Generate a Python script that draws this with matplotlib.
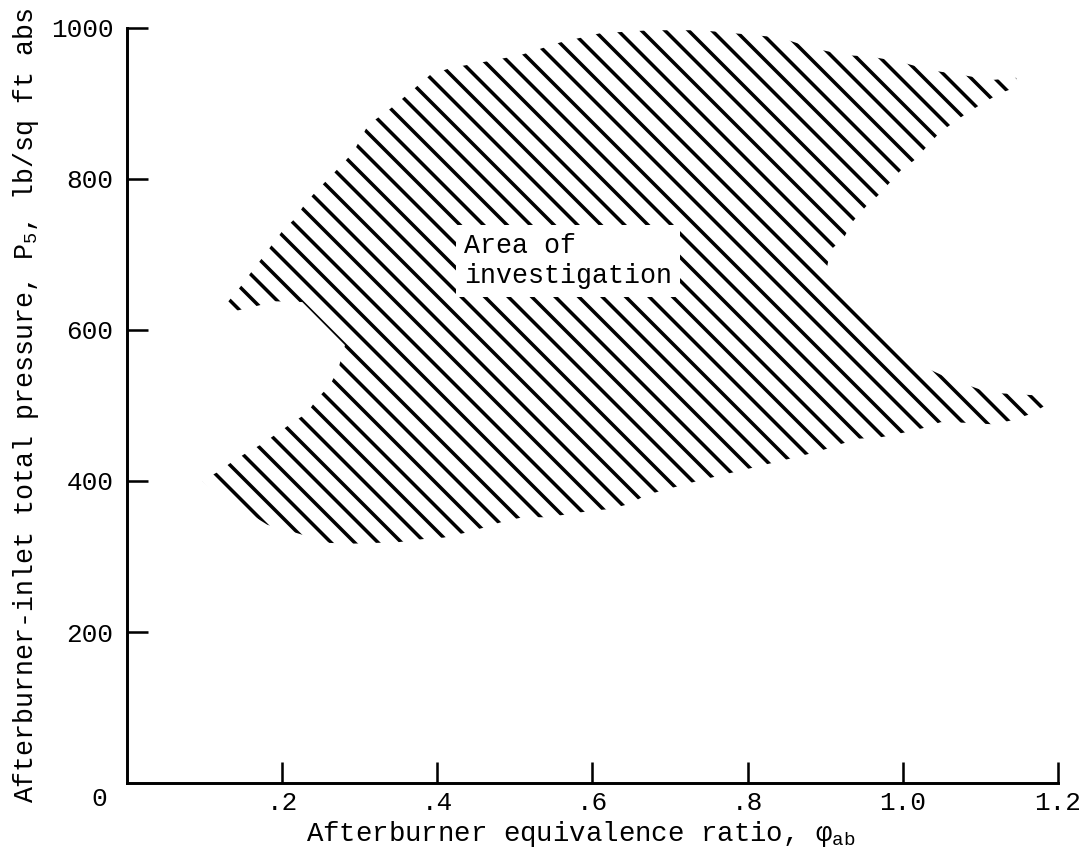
import matplotlib
matplotlib.use("Agg")
import matplotlib.pyplot as plt

DPI = 141
plt.rcParams['font.family'] = ['Liberation Mono', 'DejaVu Sans Mono']
plt.rcParams['mathtext.fontset'] = 'custom'
plt.rcParams['mathtext.rm'] = 'Liberation Mono'
plt.rcParams['mathtext.it'] = 'Liberation Mono'
plt.rcParams['hatch.linewidth'] = 1.8

# Outline of the area of investigation (equivalence ratio, pressure), traced clockwise
boundary_phi = [
    0.130, 0.146, 0.159, 0.174, 0.187, 0.201, 0.217, 0.230, 0.245, 0.262, 0.277, 0.292,
    0.311, 0.337, 0.365, 0.391, 0.417, 0.455, 0.507, 0.559, 0.610, 0.675, 0.739, 0.804,
    0.843, 0.881, 0.926, 0.959, 0.997, 1.036, 1.075, 1.114, 1.146,
    1.150, 1.124, 1.085, 1.048, 1.015, 0.997, 0.969, 0.952, 0.935, 0.924, 0.907, 0.901,
    0.959, 1.013, 1.059, 1.111, 1.179, 1.188,
    1.168, 1.143, 1.117, 1.085, 1.049, 1.026, 1.001, 0.972, 0.943, 0.917, 0.894, 0.868,
    0.804, 0.739, 0.692, 0.668, 0.649, 0.623, 0.595, 0.568, 0.542, 0.510, 0.484, 0.459,
    0.434, 0.408, 0.381, 0.350, 0.320, 0.290, 0.261, 0.219, 0.181, 0.110, 0.097,
    0.117, 0.135, 0.155, 0.174, 0.192, 0.213, 0.232, 0.245, 0.261, 0.272, 0.281,
    0.226, 0.191, 0.168, 0.139,
]
boundary_p5 = [
    637, 657, 675, 695, 713, 732, 748, 768, 785, 803, 819, 836,
    872, 891, 915, 938, 947, 954, 964, 981, 993, 997, 997, 991,
    987, 974, 964, 962, 955, 944, 938, 931, 934,
    923, 913, 889, 862, 825, 811, 779, 763, 743, 722, 706, 677,
    613, 558, 536, 517, 513, 503,
    490, 481, 475, 477, 478, 470, 464, 458, 456, 448, 440, 433,
    417, 401, 388, 381, 370, 363, 360, 356, 352, 352, 346, 338,
    331, 325, 323, 319, 318, 317, 318, 331, 342, 388, 400,
    412, 425, 438, 449, 462, 477, 490, 509, 526, 547, 580,
    637, 638, 632, 625,
]

x_ticks = [0.2, 0.4, 0.6, 0.8, 1.0, 1.2]
x_ticklabels = ['.2', '.4', '.6', '.8', '1.0', '1.2']
y_ticks = [200, 400, 600, 800, 1000]
y_ticklabels = ['200', '400', '600', '800', '1000']

fig, ax = plt.subplots(figsize=(1086 / DPI, 858 / DPI), dpi=DPI)
fig.subplots_adjust(left=0.1169, right=0.9742, bottom=0.0874, top=0.9674)

ax.fill(boundary_phi, boundary_p5, facecolor='none', edgecolor='black',
        hatch='\\\\', linewidth=0)

ax.text(0.434, 691, 'Area of\ninvestigation', fontsize=13.6, ha='left', va='center',
        bbox=dict(boxstyle='square,pad=0.3', facecolor='white', edgecolor='none'))

ax.set_xlim(0, 1.2)
ax.set_ylim(0, 1000)
ax.set_xticks(x_ticks)
ax.set_xticklabels(x_ticklabels)
ax.set_yticks(y_ticks)
ax.set_yticklabels(y_ticklabels)
ax.tick_params(direction='in', length=10.7, width=1.3, labelsize=13.3)
ax.tick_params(axis='x', pad=4)
ax.tick_params(axis='y', pad=7)
ax.annotate('0', xy=(0, 0), xytext=(-10, -2), textcoords='offset points',
            ha='right', va='top', fontsize=13.3)

for side in ['top', 'right']:
    ax.spines[side].set_visible(False)
for side in ['left', 'bottom']:
    ax.spines[side].set_linewidth(1.5)

ax.set_xlabel(r'Afterburner equivalence ratio, $\varphi_{\mathrm{ab}}$', fontsize=14, labelpad=2)
ax.xaxis.label.set_x(0.487)
ax.set_ylabel(r'Afterburner-inlet total pressure, $\mathrm{P}_5$, lb/sq ft abs', fontsize=13.6, labelpad=5)

plt.savefig('out.png', dpi=DPI)
plt.close()
